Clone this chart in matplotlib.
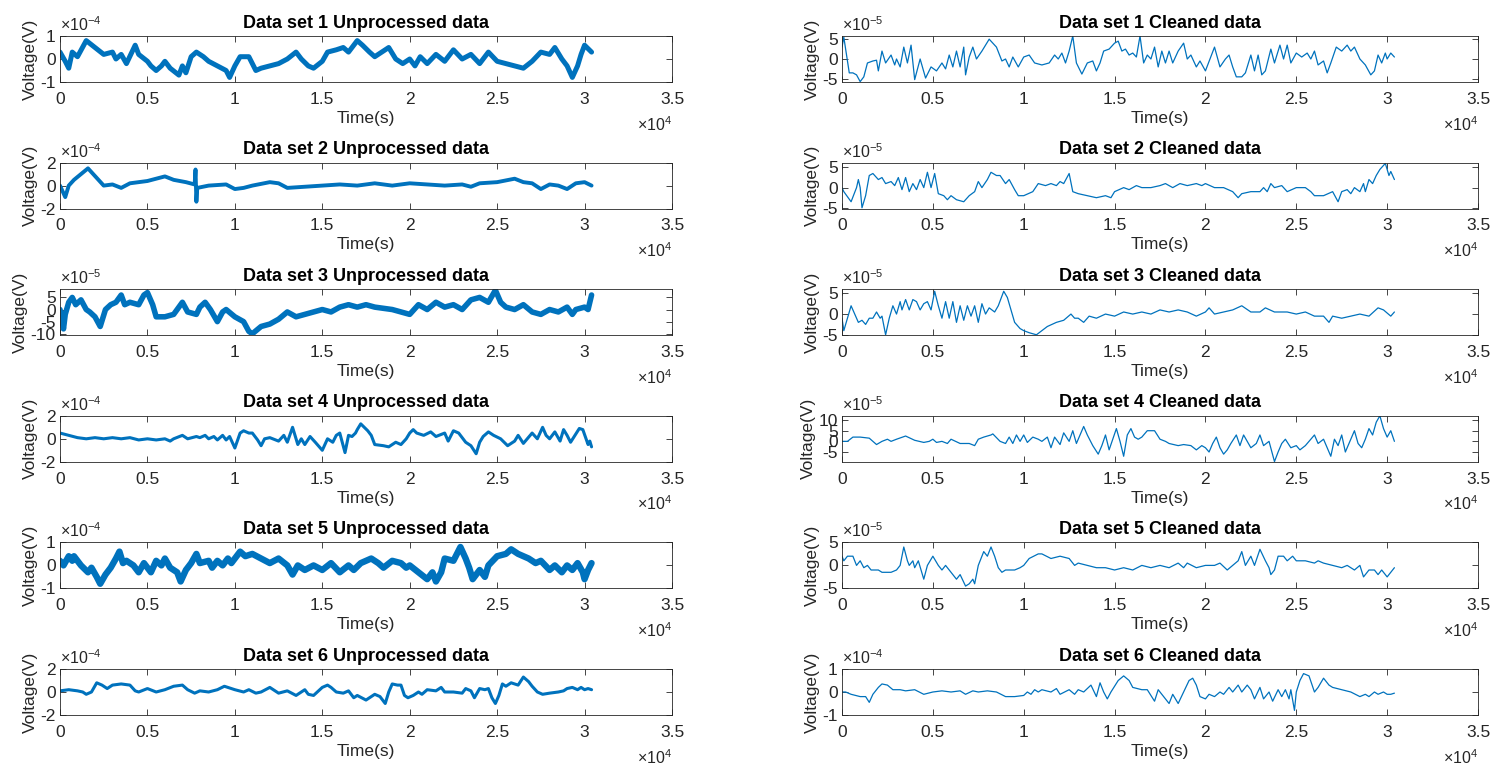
import matplotlib
matplotlib.use('Agg')
import matplotlib.pyplot as plt
import numpy as np

plt.rcParams['font.family'] = ['Liberation Sans', 'DejaVu Sans']
plt.rcParams['mathtext.fontset'] = 'custom'
plt.rcParams['mathtext.rm'] = 'Liberation Sans'
plt.rcParams['axes.unicode_minus'] = False

LINE = '#0072BD'
TXT = '#262626'

# (time in 1e4 s, voltage in units of the panel exponent)
ds1_raw = [(0, 0.3), (0.03, -0.1), (0.05, -0.4), (0.07, 0.3), (0.1, 0.1), (0.15, 0.8), (0.2, 0.5), (0.25, 0.2),
           (0.3, 0.3), (0.32, 0), (0.35, 0.2), (0.38, -0.2), (0.43, 0.6), (0.45, 0.2), (0.5, -0.1), (0.52, -0.3),
           (0.55, -0.5), (0.58, -0.3), (0.6, -0.1), (0.63, -0.4), (0.68, -0.7), (0.7, -0.3), (0.72, -0.6),
           (0.75, 0.1), (0.78, 0.3), (0.82, 0.1), (0.85, -0.1), (0.9, -0.3), (0.95, -0.5), (0.97, -0.8),
           (1.0, -0.3), (1.03, 0.1), (1.08, 0.1), (1.1, -0.2), (1.12, -0.5), (1.15, -0.4), (1.2, -0.3),
           (1.25, -0.2), (1.3, 0), (1.35, 0.3), (1.38, 0), (1.42, -0.3), (1.45, -0.4), (1.5, -0.1), (1.53, 0.3),
           (1.58, 0.4), (1.62, 0.5), (1.65, 0.3), (1.7, 0.8), (1.73, 0.6), (1.77, 0.3), (1.8, 0.1), (1.88, 0.5),
           (1.92, 0), (1.96, -0.2), (2.0, 0), (2.03, -0.3), (2.06, 0.1), (2.1, -0.2), (2.15, 0.2), (2.2, -0.1),
           (2.25, 0.4), (2.3, 0), (2.35, 0.2), (2.4, -0.2), (2.45, 0.3), (2.5, -0.1), (2.55, -0.2), (2.6, -0.3),
           (2.65, -0.4), (2.7, -0.1), (2.75, 0.3), (2.8, 0.2), (2.83, 0.5), (2.87, 0), (2.9, -0.3), (2.93, -0.8),
           (2.96, -0.3), (2.98, 0.2), (3.0, 0.6), (3.04, 0.3)]
ds1_clean = [(0, 3), (0.01, 5.5), (0.04, -3.5), (0.06, -3.5), (0.08, -4), (0.1, -5.7), (0.12, -4.5), (0.14, -1),
             (0.17, -0.5), (0.19, -0.3), (0.2, -3), (0.22, 2), (0.24, -1), (0.27, 1), (0.29, -1.5), (0.3, 0),
             (0.32, -2), (0.34, 3), (0.36, -1), (0.38, 3.5), (0.4, -5.2), (0.43, 0), (0.46, -4.8), (0.49, -2),
             (0.52, -3), (0.55, -1), (0.57, -2.5), (0.59, 1), (0.61, -2), (0.63, 2), (0.65, -2), (0.67, 3),
             (0.68, -4), (0.7, 0.5), (0.72, 3), (0.74, 0), (0.77, 2), (0.81, 5), (0.85, 3), (0.88, -0.5), (0.9, 0),
             (0.92, -2), (0.94, 0.5), (0.97, -2), (1.0, 0.5), (1.03, 1), (1.06, -1), (1.1, -1.5), (1.14, -1),
             (1.17, 1), (1.19, 0), (1.21, 1.5), (1.23, -1), (1.25, 2), (1.27, 5.8), (1.29, -1), (1.32, -3.8),
             (1.35, -1), (1.38, -0.5), (1.4, -3), (1.42, -1), (1.44, 2), (1.47, 2.5), (1.5, 4), (1.52, 4.5),
             (1.54, 2), (1.56, 2.5), (1.58, 1), (1.6, 1.5), (1.62, 0.5), (1.64, 5.8), (1.66, -1), (1.68, 1),
             (1.7, 0), (1.72, 3), (1.74, -2), (1.76, 2), (1.78, -1), (1.8, 2), (1.82, -1), (1.85, 2), (1.88, 4),
             (1.9, 0), (1.92, 1), (1.95, -2), (1.97, -0.5), (2.0, -3), (2.05, 3), (2.08, -2), (2.11, 0), (2.13, 1),
             (2.15, -2), (2.17, -4.5), (2.2, -4.5), (2.22, -3.5), (2.25, 1), (2.27, -3), (2.29, 1), (2.31, -4),
             (2.33, -3), (2.36, 2.5), (2.38, -1), (2.41, 3.5), (2.43, 0), (2.45, 3.5), (2.47, -1), (2.5, 1.5),
             (2.53, 0.5), (2.56, 1.5), (2.58, 0), (2.6, 2), (2.62, -1.5), (2.65, -0.5), (2.67, -3.5), (2.69, -1),
             (2.72, 3), (2.75, 2), (2.78, 3.5), (2.8, 2), (2.82, 3), (2.85, 0), (2.88, -1.5), (2.91, -4), (2.93, -3),
             (2.95, 1), (2.97, -1), (2.99, 1.5), (3.0, 0), (3.02, 1.5), (3.04, 0.5)]
ds2_raw = [(0, 0), (0.03, -1), (0.05, 0), (0.08, 0.5), (0.12, 1), (0.16, 1.5), (0.19, 1), (0.22, 0.5), (0.25, 0),
           (0.3, 0.1), (0.35, -0.2), (0.4, 0.2), (0.5, 0.4), (0.6, 0.8), (0.65, 0.5), (0.72, 0.3), (0.77, 0.1),
           (0.775, 1.4), (0.78, -1.4), (0.785, -0.2), (0.85, 0), (0.95, 0.1), (1.0, -0.3), (1.05, -0.2), (1.1, 0),
           (1.2, 0.3), (1.25, 0.2), (1.3, -0.2), (1.4, -0.1), (1.5, 0), (1.6, 0.1), (1.7, 0), (1.8, 0.2), (1.9, 0),
           (2.0, 0.2), (2.1, 0.1), (2.2, 0), (2.3, 0.1), (2.35, -0.1), (2.4, 0.2), (2.5, 0.3), (2.6, 0.6),
           (2.65, 0.3), (2.7, 0.2), (2.75, -0.3), (2.8, 0.1), (2.85, 0), (2.9, -0.3), (2.95, 0.2), (3.0, 0.3),
           (3.04, 0)]
ds2_clean = [(0, 0), (0.01, -1), (0.05, -3.5), (0.08, 0), (0.09, 2), (0.1, 0), (0.11, -5), (0.13, -2), (0.15, 3),
             (0.17, 3.5), (0.2, 2), (0.22, 2.5), (0.24, 1), (0.27, 1.5), (0.29, 0.5), (0.31, 2.5), (0.33, -0.5),
             (0.35, 2.5), (0.37, -1), (0.39, 1), (0.41, -0.5), (0.43, 2), (0.45, 0), (0.47, 3.8), (0.49, 0),
             (0.51, 3.5), (0.53, -1.5), (0.56, -2), (0.58, -3), (0.6, -2), (0.63, -3), (0.67, -3.5), (0.7, -2),
             (0.73, -1), (0.75, 1.5), (0.77, 0), (0.8, 2), (0.82, 3.8), (0.85, 3), (0.87, 3), (0.9, 1), (0.92, 2),
             (0.95, -0.5), (0.97, -2), (1.0, -2), (1.05, -1), (1.08, 1), (1.12, 0.5), (1.15, 1), (1.18, 0.5),
             (1.2, 1.5), (1.22, 1), (1.25, 3.5), (1.27, -1), (1.3, -1.5), (1.35, -2), (1.4, -2.5), (1.45, -2),
             (1.48, -2.5), (1.5, -1), (1.55, 0), (1.58, -0.5), (1.62, 0.5), (1.65, 0), (1.7, 0), (1.75, 0.5),
             (1.78, 1), (1.82, 0), (1.86, 1), (1.9, 0.5), (1.95, 1), (1.98, 0.5), (2.0, 1), (2.05, 0), (2.1, 0),
             (2.15, -1), (2.18, -2.5), (2.2, -1.5), (2.25, -1), (2.3, -1), (2.32, 0), (2.34, -1), (2.36, 1),
             (2.38, 0), (2.42, 0.5), (2.45, -1), (2.5, 0), (2.55, 0), (2.58, -1), (2.6, -2), (2.65, -2), (2.7, -1),
             (2.73, -3.5), (2.75, -1), (2.78, -0.5), (2.8, -1.5), (2.82, 0), (2.85, -1), (2.87, 1), (2.88, -1),
             (2.9, 2), (2.92, 1), (2.94, 3), (2.96, 4.5), (2.99, 6), (3.01, 3), (3.02, 4), (3.04, 2)]
ds3_raw = [(0, 0), (0.02, -8), (0.03, -2), (0.05, 3), (0.07, 5), (0.09, 2), (0.12, 4), (0.15, 0), (0.17, -1),
           (0.2, -3), (0.23, -7), (0.26, 0), (0.29, 2), (0.32, 3), (0.35, 6), (0.37, 2), (0.4, 3), (0.45, 2),
           (0.48, 6), (0.5, 7), (0.53, 2), (0.55, -3), (0.6, -3), (0.65, -2), (0.7, 3), (0.73, -1), (0.78, -2),
           (0.8, 1), (0.83, 3), (0.86, 0), (0.9, -5), (0.93, -1), (0.95, 0), (1.0, -3), (1.05, -5), (1.08, -9),
           (1.1, -10), (1.15, -7), (1.2, -6), (1.25, -4), (1.3, -1), (1.35, -3), (1.4, -2), (1.45, -1), (1.5, 0),
           (1.55, -1), (1.6, 1), (1.65, 2), (1.7, 1), (1.75, 2), (1.8, 1), (1.9, 0), (1.95, -1), (2.0, -2),
           (2.05, 2), (2.1, 0), (2.15, 3), (2.2, 1), (2.25, 2), (2.3, 0), (2.35, 4), (2.4, 5), (2.45, 3),
           (2.49, 8), (2.52, 3), (2.55, 1), (2.6, 0), (2.65, 2), (2.7, -1), (2.75, -2), (2.8, 0), (2.85, -1),
           (2.9, 1), (2.93, -2), (2.95, 0), (3.0, 1), (3.02, 0), (3.04, 6)]
ds3_clean = [(0, -1), (0.01, -4), (0.03, -1), (0.05, 2), (0.07, 0), (0.09, -2), (0.11, -1.5), (0.13, -2.5),
             (0.15, -1), (0.17, -1), (0.19, 0.5), (0.21, -1), (0.22, -0.5), (0.24, -5), (0.26, -1), (0.28, 2),
             (0.3, 0), (0.32, 3), (0.33, 1), (0.35, 3.5), (0.37, 1), (0.39, 3.5), (0.41, 3), (0.43, 1), (0.45, 2.5),
             (0.47, 3), (0.49, 1), (0.51, 5.5), (0.53, 2), (0.55, -1), (0.57, 3), (0.59, -1), (0.61, 3), (0.63, -2),
             (0.65, 2), (0.67, -1.5), (0.69, 2), (0.71, -0.5), (0.73, 2), (0.75, -2), (0.77, 2.5), (0.79, 0),
             (0.81, 1.5), (0.84, 0.5), (0.86, 2), (0.89, 5.5), (0.91, 4), (0.93, 1), (0.95, -2), (0.98, -3.5),
             (1.0, -4), (1.03, -4.5), (1.07, -5), (1.1, -4), (1.13, -3), (1.18, -2), (1.22, -1.5), (1.26, 0),
             (1.28, -1), (1.3, -1), (1.33, -2), (1.36, -0.5), (1.4, -1), (1.45, 0), (1.5, -0.5), (1.55, 0.5),
             (1.6, 0), (1.65, 0.5), (1.7, 0), (1.75, 1), (1.8, 0.5), (1.85, 1), (1.9, 0.5), (1.95, -0.5), (2.0, 0.5),
             (2.02, 1.5), (2.05, 0), (2.1, 0.5), (2.15, 1), (2.2, 2), (2.25, 0.5), (2.3, 0.5), (2.33, 1.5),
             (2.38, 0.5), (2.45, 0.5), (2.5, 0), (2.55, 0.5), (2.6, -0.5), (2.65, -0.5), (2.68, -2), (2.7, -0.5),
             (2.75, -1), (2.8, -0.5), (2.85, 0), (2.9, -0.5), (2.95, 1.5), (2.98, 1), (3.02, -0.5), (3.04, 0.5)]
ds4_raw = [(0, 0.5), (0.05, 0.3), (0.1, 0.1), (0.15, 0), (0.2, 0.1), (0.25, 0), (0.3, 0.1), (0.35, 0), (0.4, 0.1),
           (0.45, -0.1), (0.5, 0), (0.55, -0.1), (0.6, 0), (0.63, -0.2), (0.65, 0), (0.7, 0.3), (0.73, 0),
           (0.78, 0.2), (0.8, 0.1), (0.83, 0.3), (0.85, 0), (0.88, 0.2), (0.9, -0.1), (0.93, 0.3), (0.95, -0.1),
           (0.97, 0.2), (1.0, -0.8), (1.03, 0.5), (1.05, 0.7), (1.08, 0.5), (1.1, 0.5), (1.13, -0.1), (1.15, -0.6),
           (1.17, 0), (1.2, 0.1), (1.25, -0.2), (1.28, 0.3), (1.3, -0.3), (1.33, 1.0), (1.36, -0.5), (1.38, 0),
           (1.4, -0.5), (1.43, 0.2), (1.46, -0.3), (1.5, -1.0), (1.53, 0), (1.56, -0.3), (1.58, 0.3), (1.6, 0.5),
           (1.63, -1.2), (1.65, 0.3), (1.67, 0.2), (1.69, 0.5), (1.7, 0.8), (1.72, 1.3), (1.74, 1.0), (1.76, 0.7),
           (1.78, 0.3), (1.8, -0.5), (1.85, -0.6), (1.88, -0.7), (1.92, -0.3), (1.95, -0.5), (1.98, 0), (2.0, 0.5),
           (2.02, 0.8), (2.04, 0.5), (2.08, 0.3), (2.12, 0.6), (2.15, 0.2), (2.2, 0.5), (2.22, -0.2), (2.25, 0.7),
           (2.28, 0.5), (2.32, -0.3), (2.35, -0.6), (2.38, -1.3), (2.4, -0.3), (2.42, 0.2), (2.45, 0.6),
           (2.48, 0.3), (2.52, 0), (2.56, -0.6), (2.6, -0.2), (2.62, 0.3), (2.65, -0.4), (2.7, 0.5), (2.73, 0),
           (2.76, 1.0), (2.78, 0.3), (2.8, 0), (2.83, 0.6), (2.86, -0.2), (2.88, 0.8), (2.9, 0.3), (2.92, -0.3),
           (2.97, 0.9), (2.99, 0.8), (3.02, -0.5), (3.03, -0.2), (3.04, -0.7)]
ds4_clean = [(0, 0), (0.03, 0), (0.06, 2), (0.1, 2), (0.15, 1.5), (0.19, -1.5), (0.22, 0), (0.25, 1), (0.27, 0),
             (0.3, 1), (0.35, 2.5), (0.4, 0.5), (0.45, -0.5), (0.48, 0), (0.5, 1), (0.52, -0.5), (0.55, 0),
             (0.58, -1), (0.6, 1), (0.65, -1), (0.7, -1), (0.73, -2), (0.75, 1), (0.78, 2), (0.82, 3), (0.83, 3.5),
             (0.87, 0), (0.9, -1), (0.92, 2), (0.94, -1), (0.96, 3), (0.98, 0), (1.0, 3), (1.02, -0.5), (1.05, 2),
             (1.08, 1), (1.1, 0), (1.13, 2), (1.15, -3), (1.17, 2), (1.2, -1.5), (1.22, 4), (1.25, 0), (1.27, 5),
             (1.29, -1), (1.31, 3), (1.33, 7), (1.35, 3), (1.38, -2), (1.41, -6), (1.43, -2), (1.45, 3), (1.47, -4),
             (1.49, 1), (1.51, 6), (1.53, 0), (1.55, -7), (1.57, 3), (1.59, 6), (1.61, 2), (1.63, 1), (1.65, 2),
             (1.68, 5), (1.72, 5), (1.75, 1), (1.78, 0), (1.8, -1), (1.85, -2), (1.88, -1.5), (1.92, -2), (1.95, -4),
             (1.98, -2), (2.0, -3), (2.02, -5), (2.04, -1), (2.06, 2), (2.08, -3), (2.1, -6), (2.12, -4), (2.14, -1),
             (2.17, 3), (2.19, -2), (2.21, 3), (2.23, 0), (2.25, -3), (2.28, -1), (2.3, 3), (2.32, -2), (2.35, 0),
             (2.38, -9.5), (2.4, -5), (2.42, -1), (2.44, 1), (2.47, -3), (2.5, -2), (2.52, -4), (2.55, -2),
             (2.58, 1), (2.6, 3), (2.62, -1), (2.65, 1), (2.67, -3), (2.69, -7), (2.71, 1), (2.73, -2), (2.75, 3),
             (2.77, -5), (2.79, -1), (2.82, 5), (2.84, -1), (2.86, -3), (2.88, 1), (2.9, 6), (2.92, 3), (2.94, 9),
             (2.96, 12), (2.98, 6), (3.0, 2), (3.02, 5), (3.04, 0)]
ds5_raw = [(0, 0.2), (0.02, 0), (0.05, 0.4), (0.07, 0.2), (0.08, 0.4), (0.12, 0), (0.16, -0.3), (0.18, -0.1),
           (0.21, -0.5), (0.23, -0.8), (0.26, -0.4), (0.29, -0.1), (0.32, 0.3), (0.34, 0.6), (0.36, 0.1),
           (0.38, 0.2), (0.42, 0), (0.45, -0.3), (0.48, 0.1), (0.52, -0.3), (0.55, 0.2), (0.58, 0), (0.6, 0.3),
           (0.63, -0.1), (0.67, -0.3), (0.69, -0.7), (0.72, -0.2), (0.75, 0.1), (0.78, 0.5), (0.8, 0.1),
           (0.85, 0.2), (0.87, -0.1), (0.9, 0.2), (0.93, 0), (0.96, 0.3), (0.98, 0.1), (1.03, 0.6), (1.06, 0.4),
           (1.1, 0.5), (1.15, 0.3), (1.2, 0.1), (1.25, 0.3), (1.3, 0), (1.33, -0.4), (1.36, 0), (1.4, -0.2),
           (1.45, 0), (1.5, -0.2), (1.55, 0.1), (1.6, -0.3), (1.65, 0), (1.68, -0.2), (1.72, 0.1), (1.78, 0.3),
           (1.82, 0.1), (1.85, -0.1), (1.9, 0.2), (1.95, 0.1), (1.98, -0.1), (2.0, 0), (2.05, -0.3), (2.1, -0.6),
           (2.13, -0.3), (2.15, -0.7), (2.18, -0.3), (2.2, 0.3), (2.25, 0.2), (2.29, 0.8), (2.32, 0.3),
           (2.34, -0.1), (2.36, -0.6), (2.4, -0.2), (2.43, -0.5), (2.45, 0), (2.5, 0.4), (2.55, 0.5), (2.58, 0.7),
           (2.62, 0.5), (2.68, 0.3), (2.72, 0.1), (2.75, 0.2), (2.8, -0.2), (2.83, 0), (2.87, -0.3), (2.9, 0),
           (2.93, -0.2), (2.96, 0.1), (2.99, -0.3), (3.0, -0.6), (3.02, -0.2), (3.04, 0.1)]
ds5_clean = [(0, 2), (0.01, 1), (0.03, 2), (0.06, 2), (0.08, 0), (0.1, 1), (0.12, -0.5), (0.14, 0), (0.16, -1),
             (0.2, -1), (0.22, -1.5), (0.27, -1.5), (0.3, -1), (0.32, 0), (0.34, 4), (0.36, 1), (0.37, 0), (0.39, 1),
             (0.4, -0.5), (0.42, 1), (0.45, -3), (0.47, 0), (0.5, 2), (0.53, 0), (0.55, -1), (0.57, 0), (0.6, -1.5),
             (0.63, -3), (0.65, -2), (0.68, -4.5), (0.7, -4), (0.72, -3), (0.73, -4), (0.75, 0), (0.78, 3), (0.8, 2),
             (0.82, 4), (0.84, 2), (0.86, -0.5), (0.88, -1.5), (0.9, -1), (0.95, -1), (0.98, -0.5), (1.0, 0),
             (1.03, 1.5), (1.08, 2.5), (1.1, 2.5), (1.15, 1.5), (1.2, 2), (1.25, 1.5), (1.28, 0), (1.3, 0.5),
             (1.35, 0), (1.4, -0.5), (1.45, -0.5), (1.5, -1), (1.55, -0.5), (1.6, -1), (1.65, 0), (1.7, -0.5),
             (1.75, 0), (1.8, -0.5), (1.85, 0.5), (1.88, -0.5), (1.9, 0.5), (1.95, -0.5), (2.0, 0), (2.05, 0),
             (2.08, 0.5), (2.12, -1), (2.15, 0), (2.18, 1), (2.2, 3), (2.22, 0), (2.25, 2), (2.27, 0), (2.3, 3.5),
             (2.33, 1), (2.35, -0.5), (2.36, -2), (2.38, -1), (2.4, 2), (2.43, 2), (2.45, 1), (2.48, 2), (2.5, 1),
             (2.55, 1), (2.6, 0.5), (2.62, 1), (2.65, 0.5), (2.7, 0), (2.75, -0.5), (2.78, 0), (2.82, -1),
             (2.85, 0), (2.87, -2.5), (2.9, -1), (2.93, -1), (2.95, -2), (2.97, -1), (3.0, -2.5), (3.02, -1.5),
             (3.04, -0.5)]
ds6_raw = [(0, 0.1), (0.05, 0.2), (0.1, 0.1), (0.13, 0), (0.15, -0.2), (0.18, 0), (0.21, 0.8), (0.24, 0.6),
           (0.27, 0.3), (0.3, 0.6), (0.35, 0.7), (0.4, 0.6), (0.43, 0.1), (0.45, 0), (0.5, 0.3), (0.55, 0),
           (0.6, 0.2), (0.65, 0.5), (0.7, 0.6), (0.73, 0.2), (0.77, -0.1), (0.8, 0.1), (0.85, 0), (0.9, 0.2),
           (0.94, 0.5), (0.98, 0.3), (1.0, 0.2), (1.05, 0), (1.08, 0.2), (1.12, -0.1), (1.15, 0), (1.2, 0.4),
           (1.25, -0.1), (1.3, 0.1), (1.35, -0.3), (1.38, 0), (1.4, 0.2), (1.42, -0.2), (1.45, -0.3), (1.5, 0.4),
           (1.53, 0.6), (1.55, 0.4), (1.58, 0), (1.62, -0.1), (1.65, 0.1), (1.68, -0.5), (1.7, -0.3), (1.75, -0.7),
           (1.8, -0.2), (1.83, -0.4), (1.86, -1.0), (1.88, 0), (1.9, 0.7), (1.93, 0.6), (1.95, 0.6), (1.97, -0.3),
           (1.99, -0.5), (2.02, -0.3), (2.05, 0), (2.07, -0.2), (2.1, 0.2), (2.15, 0.1), (2.18, 0.4), (2.2, 0),
           (2.25, 0), (2.3, -0.1), (2.32, 0.3), (2.35, 0.1), (2.37, -0.5), (2.4, 0.3), (2.43, 0.2), (2.45, 0.3),
           (2.47, -0.5), (2.49, -1.0), (2.51, -0.3), (2.53, 0.7), (2.55, 0.5), (2.58, 0.8), (2.62, 0.6),
           (2.65, 1.3), (2.68, 0.9), (2.7, 0.5), (2.73, 0), (2.76, -0.2), (2.8, -0.1), (2.85, 0), (2.88, 0.1),
           (2.9, 0.3), (2.93, 0.4), (2.96, 0.2), (2.98, 0.4), (3.0, 0.2), (3.02, 0.3), (3.04, 0.2)]
ds6_clean = [(0, 0), (0.02, 0), (0.05, -0.1), (0.1, -0.2), (0.13, -0.2), (0.15, -0.45), (0.17, -0.1), (0.2, 0.2),
             (0.22, 0.35), (0.25, 0.3), (0.28, 0.1), (0.32, 0.1), (0.35, 0.05), (0.4, 0.1), (0.45, -0.1), (0.5, 0),
             (0.55, 0.05), (0.6, 0), (0.65, 0.05), (0.68, -0.1), (0.72, 0.05), (0.75, 0), (0.8, 0.05), (0.85, 0),
             (0.9, -0.2), (0.95, -0.2), (1.0, -0.15), (1.02, 0), (1.04, -0.1), (1.06, 0.1), (1.08, 0), (1.1, 0.1),
             (1.15, 0), (1.18, 0.15), (1.2, -0.1), (1.25, 0.1), (1.28, -0.1), (1.3, 0.1), (1.33, 0), (1.37, 0.3),
             (1.4, -0.2), (1.42, 0.4), (1.44, 0), (1.46, -0.3), (1.48, 0), (1.52, 0.5), (1.55, 0.7), (1.58, 0.5),
             (1.6, 0.2), (1.65, 0.1), (1.68, 0.1), (1.72, -0.4), (1.74, 0.1), (1.77, -0.2), (1.8, -0.5), (1.82, -0.1),
             (1.85, -0.5), (1.88, 0), (1.91, 0.5), (1.93, 0.6), (1.95, 0.3), (1.97, -0.2), (2.0, -0.3), (2.02, -0.1),
             (2.05, -0.2), (2.08, 0), (2.1, -0.1), (2.13, 0.2), (2.15, 0), (2.18, 0.3), (2.2, 0), (2.23, 0.3),
             (2.25, 0.1), (2.27, -0.3), (2.3, 0.2), (2.32, -0.3), (2.35, 0), (2.37, -0.4), (2.4, 0.1), (2.42, -0.2),
             (2.44, 0.1), (2.46, -0.3), (2.47, 0.1), (2.49, -0.8), (2.5, 0), (2.52, 0.5), (2.54, 0.8), (2.57, 0.7),
             (2.6, 0), (2.62, 0.2), (2.65, 0.6), (2.68, 0.3), (2.7, 0.2), (2.75, 0.1), (2.8, 0), (2.85, -0.2),
             (2.88, -0.1), (2.9, -0.2), (2.93, 0), (2.95, -0.1), (2.98, 0), (3.0, -0.1), (3.02, -0.1), (3.04, -0.05)]

x_ticks = [0, 0.5, 1, 1.5, 2, 2.5, 3, 3.5]

# title, data, exponent, y limits, y ticks, line width
left = [
    ('Data set 1 Unprocessed data', ds1_raw, -4, (-1, 1), [-1, 0, 1], 3.6),
    ('Data set 2 Unprocessed data', ds2_raw, -4, (-2, 2), [-2, 0, 2], 2.8),
    ('Data set 3 Unprocessed data', ds3_raw, -5, (-10.6, 8.4), [-10, -5, 0, 5], 4.0),
    ('Data set 4 Unprocessed data', ds4_raw, -4, (-2, 2), [-2, 0, 2], 2.2),
    ('Data set 5 Unprocessed data', ds5_raw, -4, (-1, 1), [-1, 0, 1], 4.6),
    ('Data set 6 Unprocessed data', ds6_raw, -4, (-2, 2), [-2, 0, 2], 2.2),
]
right = [
    ('Data set 1 Cleaned data', ds1_clean, -5, (-5.8, 5.8), [-5, 0, 5], 0.9),
    ('Data set 2 Cleaned data', ds2_clean, -5, (-5.2, 6.2), [-5, 0, 5], 0.9),
    ('Data set 3 Cleaned data', ds3_clean, -5, (-5.1, 6.0), [-5, 0, 5], 0.9),
    ('Data set 4 Cleaned data', ds4_clean, -5, (-9.6, 12.0), [-5, 0, 5, 10], 0.9),
    ('Data set 5 Cleaned data', ds5_clean, -5, (-5, 5), [-5, 0, 5], 0.9),
    ('Data set 6 Cleaned data', ds6_clean, -4, (-1, 1), [-1, 0, 1], 0.9),
]

W, H = 1499, 771
fig = plt.figure(figsize=(W / 100, H / 100), dpi=100)


def panel(x0, x1, row, spec):
    title, data, ex, ylim, yt, lw = spec
    top = 36 + 126.6 * row
    ax = fig.add_axes([x0 / W, 1 - (top + 46) / H, (x1 - x0) / W, 46 / H])
    t = np.array([p[0] for p in data]) * 1e4
    v = np.array([p[1] for p in data]) * 10.0 ** ex
    ax.plot(t, v, color=LINE, lw=lw, solid_joinstyle='round', solid_capstyle='round')
    ax.set_xlim(0, 3.5e4)
    ax.set_ylim(ylim[0] * 10.0 ** ex, ylim[1] * 10.0 ** ex)
    ax.set_xticks([x * 1e4 for x in x_ticks])
    ax.set_xticklabels(['%g' % x for x in x_ticks])
    ax.set_yticks([y * 10.0 ** ex for y in yt])
    ax.set_yticklabels(['%g' % y for y in yt])
    ax.tick_params(direction='in', length=4, width=0.6, colors=TXT, labelsize=12.5,
                   top=True, right=True)
    ax.tick_params(axis='x', pad=7)
    ax.tick_params(axis='y', pad=3)
    for s in ax.spines.values():
        s.set_color(TXT)
        s.set_linewidth(0.6)
    ax.set_title(title, fontsize=13, fontweight='bold', pad=6)
    ax.set_xlabel('Time(s)', fontsize=12.5, color=TXT, labelpad=3)
    ax.set_ylabel('Voltage(V)', fontsize=12.5, color=TXT, labelpad=2)
    ax.annotate(r'$\times10^{%d}$' % ex, xy=(0, 1), xycoords='axes fraction', xytext=(0, 2),
                textcoords='offset pixels', ha='left', va='bottom', fontsize=11.5, color=TXT)
    ax.annotate(r'$\times10^{4}$', xy=(1, 0), xycoords='axes fraction', xytext=(0, -33),
                textcoords='offset pixels', ha='right', va='top', fontsize=11.5, color=TXT)


for i in range(6):
    panel(60, 672, i, left[i])
    panel(842, 1478, i, right[i])

fig.savefig('out.png', dpi=100)
